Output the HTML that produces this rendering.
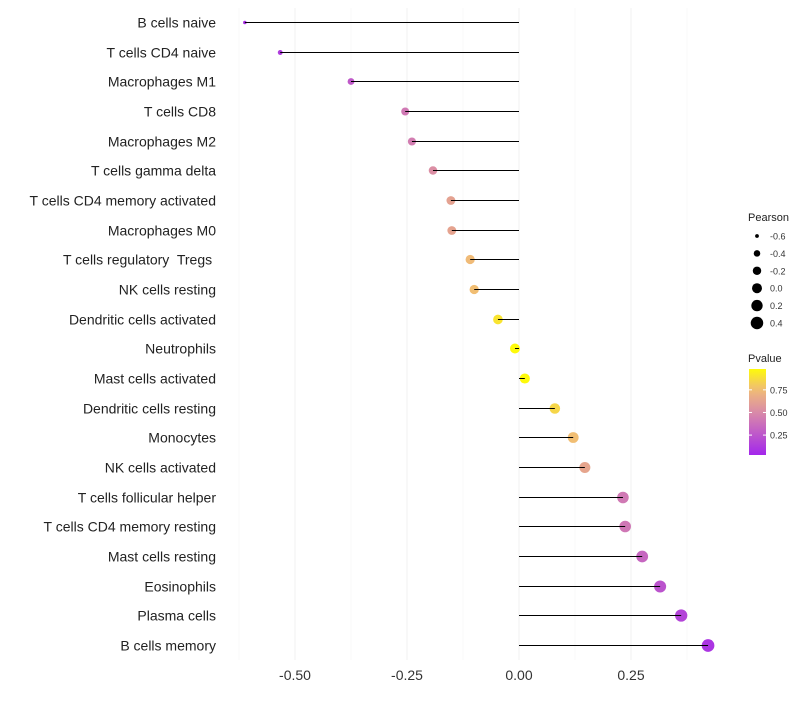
<!DOCTYPE html>
<html><head><meta charset="utf-8"><style>body{margin:0;background:#fff}svg{font-family:"Liberation Sans",sans-serif}text{white-space:pre}</style></head>
<body>
<svg id="c" width="800" height="700"></svg>
<script>
const categories=["B cells naive","T cells CD4 naive","Macrophages M1","T cells CD8","Macrophages M2","T cells gamma delta","T cells CD4 memory activated","Macrophages M0","T cells regulatory  Tregs ","NK cells resting","Dendritic cells activated","Neutrophils","Mast cells activated","Dendritic cells resting","Monocytes","NK cells activated","T cells follicular helper","T cells CD4 memory resting","Mast cells resting","Eosinophils","Plasma cells","B cells memory"];
const pearson=[-0.612,-0.533,-0.375,-0.254,-0.239,-0.192,-0.152,-0.150,-0.109,-0.100,-0.047,-0.009,0.013,0.080,0.121,0.147,0.232,0.237,0.275,0.315,0.362,0.422];
const pvalue=[0.08,0.13,0.27,0.42,0.44,0.52,0.62,0.63,0.75,0.76,0.9,0.98,0.98,0.85,0.76,0.64,0.42,0.41,0.33,0.24,0.17,0.1];
const xTicks=[-0.5,-0.25,0,0.25];
const xTickLabels=["-0.50","-0.25","0.00","0.25"];
const sizeLegend=[-0.6,-0.4,-0.2,0.0,0.2,0.4];
const colorTicks=[0.25,0.5,0.75];
const NS="http://www.w3.org/2000/svg",svg=document.getElementById('c');
function el(t,a,p){const e=document.createElementNS(NS,t);for(const k in a)e.setAttribute(k,a[k]);(p||svg).appendChild(e);return e;}
const X=v=>519+v*448, Y=i=>22+i*(623/21);
const R=v=>5*Math.sqrt(Math.max(v+0.7,0.01)/0.7);
function hex(h){return [1,3,5].map(i=>parseInt(h.substr(i,2),16));}
const stops=[[0,"#a020f0"],[0.5,"#d98aa8"],[0.75,"#f0bb78"],[1,"#ffff00"]];
function col(p){p=Math.max(0,Math.min(1,p));for(let i=1;i<stops.length;i++){if(p<=stops[i][0]){const t=(p-stops[i-1][0])/(stops[i][0]-stops[i-1][0]);const a=hex(stops[i-1][1]),b=hex(stops[i][1]);return "rgb("+a.map((v,k)=>Math.round(v+(b[k]-v)*t)).join(",")+")";}}return stops[stops.length-1][1];}
for(let v=-0.625;v<=0.4;v+=0.125){const maj=Math.abs((v/0.25)%1)<1e-6;const g=el('line',{x1:X(v),x2:X(v),y1:8,y2:660,stroke:maj?"#f0f0f0":"#f6f6f6","stroke-width":maj?1:0.6});

}
xTicks.forEach((v,i)=>{const t=el('text',{x:X(v),y:680,"text-anchor":"middle","font-size":14,fill:"#333"});t.textContent=xTickLabels[i];

});
categories.forEach((c,i)=>{const y=Math.round(Y(i))+0.5;
const t=el('text',{x:216,y:y+5,"text-anchor":"end","font-size":14,fill:"#222","xml:space":"preserve"});t.textContent=c;


const p=el('circle',{cx:X(pearson[i]),cy:y,r:R(pearson[i]),fill:col(pvalue[i])});


const l=el('line',{x1:X(0),x2:X(pearson[i]),y1:y,y2:y,stroke:"#000","stroke-width":1});

});
let t=el('text',{x:748,y:221,"font-size":11,fill:"#222"});t.textContent="Pearson";


sizeLegend.forEach((v,i)=>{const y=236+i*17.4;const c=el('circle',{cx:757,cy:y,r:R(v),fill:"#000"});


const tt=el('text',{x:770,y:y+3.5,"font-size":9,fill:"#333"});tt.textContent=v.toFixed(1);

});
t=el('text',{x:748,y:362,"font-size":11,fill:"#222"});t.textContent="Pvalue";


const defs=el('defs',{});const lg=el('linearGradient',{id:"g",x1:0,y1:1,x2:0,y2:0},defs);
for(let k=0;k<=10;k++){const p=0.03+k*0.095;el('stop',{offset:k/10,"stop-color":col(p)},lg);}
const bar=el('rect',{x:749,y:369,width:17,height:86,fill:"url(#g)"});


colorTicks.forEach(v=>{const y=455-(v-0.03)*90.5;el('line',{x1:749,x2:752,y1:y,y2:y,stroke:"#fff"});el('line',{x1:763,x2:766,y1:y,y2:y,stroke:"#fff"});
const tt=el('text',{x:770,y:y+3.5,"font-size":9,fill:"#333"});tt.textContent=v.toFixed(2);

});
</script>
</body></html>
